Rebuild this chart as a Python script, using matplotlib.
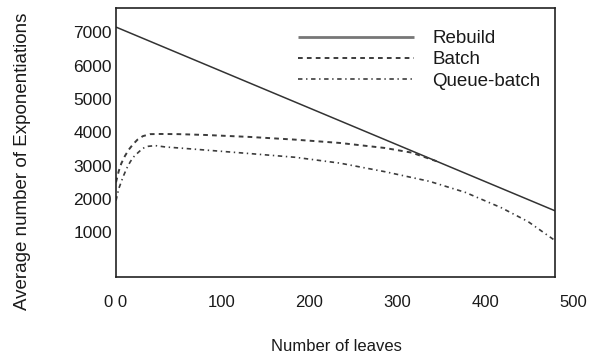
import matplotlib
matplotlib.use("Agg")
import matplotlib.pyplot as plt

plt.rcParams['font.family'] = ['Liberation Sans', 'DejaVu Sans']
plt.rcParams['lines.scale_dashes'] = False

# ---- data ----
leaves_rebuild = [0, 100, 200, 300, 400, 490]
rebuild = [7160, 6034, 4908, 3782, 2656, 1643]

leaves_batch = [0, 3, 6, 10, 14, 19, 24, 30, 38, 50, 70, 100, 150, 200, 250, 300, 330, 358]
batch = [2500, 2830, 3069, 3290, 3470, 3640, 3780, 3885, 3945, 3950, 3945, 3920, 3860, 3780, 3680, 3530, 3390, 3130]

leaves_queue = [0, 3, 8, 12, 16, 20, 25, 30, 36, 44, 55, 70, 100, 150, 200, 250, 300, 350, 390, 430, 460, 490]
queue = [1950, 2300, 2670, 2920, 3120, 3270, 3400, 3520, 3580, 3600, 3560, 3530, 3467, 3360, 3250, 3074, 2818, 2527, 2195, 1736, 1318, 750]

y_ticks = [1000, 2000, 3000, 4000, 5000, 6000, 7000]
x_tick_labels = [100, 200, 300, 400, 500]
series_names = ["Rebuild", "Batch", "Queue-batch"]

W, H = 600, 358
fig = plt.figure(figsize=(W / 100, H / 100), dpi=100)

def fx(px):
    return px / W

def fy(py):
    return 1 - py / H

# main axes: box from px 116..555, py 8..277
ax = fig.add_axes([fx(116), fy(277), fx(555) - fx(116), fy(8) - fy(277)])
ax.set_xlim(0, 490)
ax.set_ylim(-345, 7733)

line_col = '#333333'
dash_col = '#3c3c3c'
l1, = ax.plot(leaves_rebuild, rebuild, color=line_col, lw=1.1, solid_capstyle='butt', label=series_names[0])
l2, = ax.plot(leaves_batch, batch, color=dash_col, lw=1.4, linestyle=(0, (3.4, 3.0)), label=series_names[1])
l3, = ax.plot(leaves_queue, queue, color=dash_col, lw=1.2, linestyle=(0, (3.2, 2.6, 1.0, 2.6)), label=series_names[2])

for s in ax.spines.values():
    s.set_color('#222222')
    s.set_linewidth(1.2)

txt_col = '#1a1a1a'
ax.set_yticks(y_ticks)
ax.set_yticklabels([str(v) for v in y_ticks])
ax.tick_params(axis='y', length=0, pad=3, labelsize=12.5, labelcolor=txt_col)
ax.set_xticks([0])
ax.set_xticklabels(["0 0"])
ax.tick_params(axis='x', length=0, pad=13, labelsize=12, labelcolor=txt_col)

# secondary label axis for x tick labels (labels 0..500 spaced 88px per 100)
x0_px = 133.7
x500_px = 133.7 + 0.879 * 500
ax2 = fig.add_axes([fx(x0_px), fy(277), fx(x500_px) - fx(x0_px), 0.001])
ax2.set_xlim(0, 500)
ax2.set_xticks(x_tick_labels)
ax2.set_xticklabels([str(v) for v in x_tick_labels])
ax2.tick_params(axis='x', length=0, pad=13, labelsize=12, labelcolor=txt_col)
ax2.set_yticks([])
for s in ax2.spines.values():
    s.set_visible(False)
ax2.patch.set_visible(False)

fig.text(fx(336.7), fy(346.5), "Number of leaves", ha='center', va='center', fontsize=12, color=txt_col)
fig.text(fx(23), fy(161), "Average number of Exponentiations", ha='center', va='center',
         rotation=90, fontsize=13.5, color=txt_col)

leg = ax.legend(handles=[l1, l2, l3], loc='upper left', bbox_to_anchor=(fx(298), fy(30)),
                bbox_transform=fig.transFigure, frameon=False, fontsize=13.5,
                handlelength=6.2, handletextpad=0.96, labelspacing=0.22, borderpad=0,
                borderaxespad=0)
for t in leg.get_texts():
    t.set_color(txt_col)
lh = leg.get_lines()
lh[0].set_color('#777777')
lh[0].set_linewidth(2.0)

fig.savefig("out.png", dpi=100)
